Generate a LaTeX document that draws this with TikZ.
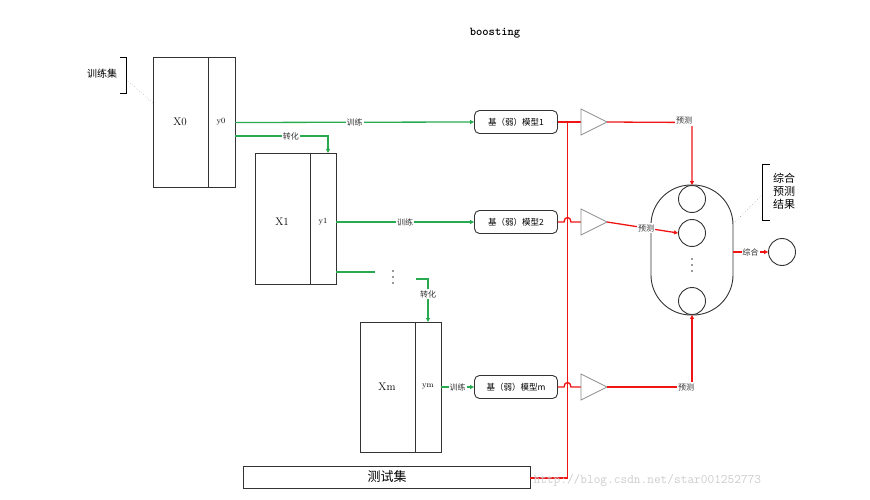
\documentclass[tikz,border=0pt]{standalone}
\usepackage{fontspec}
\newfontfamily\cjk{Noto Sans CJK SC}
\usetikzlibrary{arrows.meta,shapes.geometric}
\definecolor{gline}{RGB}{40,170,80}
\definecolor{rline}{RGB}{240,20,20}
\begin{document}
\begin{tikzpicture}[x=1pt,y=-1pt,
  box/.style={draw=black!80,line width=0.9pt},
  gl/.style={draw=gline,line width=1.3pt},
  rl/.style={draw=rline,line width=1.3pt},
  ga/.style={gl,-{Triangle[length=4pt,width=4pt]}},
  ra/.style={rl,-{Triangle[length=4pt,width=4pt]}},
  lab/.style={font=\cjk\fontsize{8}{8}\selectfont,fill=white,inner sep=1pt,text=black!80},
  model/.style={draw=black!80,line width=0.9pt,rounded corners=5pt,minimum width=83pt,minimum height=23pt,inner sep=1pt,font=\cjk\fontsize{8.5}{9}\selectfont},
  tri/.style={draw=black!45,line width=0.7pt,fill=white},
  circ/.style={draw=black!80,line width=0.9pt,circle,minimum size=27pt,inner sep=0pt},
  dot/.style={circle,fill=black!80,inner sep=0pt,minimum size=1.8pt},
  big/.style={font=\fontsize{11}{11}\selectfont}]
\useasboundingbox (0,0) rectangle (870,500);
\node[font=\ttfamily\bfseries\fontsize{12}{12}\selectfont] (title) at (495,33) {boosting};
% training set label
\node[font=\cjk\fontsize{10}{10}\selectfont] (trs) at (102,74) {训练集};
\draw[line width=0.9pt] (120,57) -- (126,57) -- (126,93) -- (120,93);
\draw[dotted,black!50] (127,80) -- (153,103);
% data boxes
\draw[box] (153,57) rectangle (235,187); \draw[box] (208,57) -- (208,187);
\node[big] (x0) at (180,122) {X0}; \node[font=\fontsize{8}{8}\selectfont] (y0) at (221,122) {y0};
\draw[box] (255,153) rectangle (336,284); \draw[box] (310,153) -- (310,284);
\node[big] (x1) at (282,222) {X1}; \node[font=\fontsize{8}{8}\selectfont] (y1) at (323,222) {y1};
\draw[box] (360,322) rectangle (441,452); \draw[box] (415,322) -- (415,452);
\node[big] (xm) at (387,387) {Xm}; \node[font=\fontsize{8}{8}\selectfont] (ym) at (428,387) {ym};
\draw[box] (243,466) rectangle (530,488);
\node[font=\cjk\fontsize{13}{13}\selectfont] (test) at (387,477) {测试集};
% models
\node[model] (m1) at (516,122) {基（弱）模型1};
\node[model] (m2) at (516,222) {基（弱）模型2};
\node[model] (mm) at (516,387) {基（弱）模型m};
% green
\draw[ga] (235,122.5) -- node[lab] {训练} (m1.west);
\draw[ga] (235,136) -- node[lab,pos=0.6] {转化} (328,136) -- (328,153);
\draw[ga] (336,222) -- node[lab,pos=0.5] {训练} (m2.west);
\draw[gl] (336,272) -- (375,272);
\node[dot] (d1) at (393,271) {}; \node[dot] (d2) at (393,277) {}; \node[dot] (d3) at (393,283) {};
\draw[ga] (416,279) -- (428,279) -- node[lab,pos=0.35] {转化} (428,322);
\draw[ga] (441,387) -- node[lab] {训练} (mm.west);
% red bus
\draw[rl] (530,478) -- (567.5,478) -- (567.5,122);
\draw[rl] (m1.east) -- (590,122);
\draw[rl] (m2.east) -- (564,222) .. controls (564,216) and (571,216) .. (571,222) -- (590,222);
\draw[rl] (mm.east) -- (564,387) .. controls (564,381) and (571,381) .. (571,387) -- (590,387);
% triangles
\foreach \n/\yy in {t1/122,t2/222,tm/387}{
  \draw[tri] (581,\yy-13) -- (607,\yy) -- (581,\yy+13) -- cycle;
  \coordinate (\n) at (607,\yy);}
% capsule
\draw[line width=0.9pt,black!80,rounded corners=40pt] (651,185) rectangle (733,315);
\node[circ] (c1) at (692,199) {};
\node[circ] (c2) at (692,233) {};
\node[dot] (e1) at (692,259) {}; \node[dot] (e2) at (692,265) {}; \node[dot] (e3) at (692,271) {};
\node[circ] (cm) at (692,301) {};
\draw[ra] (t1) -- (692,122.5) -- (c1.north);
\node[lab] (p1) at (684,121) {预测};
\draw[ra] (t2) -- node[lab,pos=0.55] {预测} (c2.west);
\draw[ra] (tm) -- (692,387) -- (cm.south);
\node[lab] (pm) at (686,387) {预测};
% result
\node[circ] (res) at (782,252) {};
\draw[ra] (733,252) -- node[lab] {综合} (res.west);
\node[align=left,font=\cjk\fontsize{11}{13}\selectfont,inner sep=0pt] (rl) at (784,191) {综合\\预测\\结果};
\draw[line width=0.9pt] (770,164) -- (762,164) -- (762,220) -- (770,220);
\draw[dotted,black!50] (761,196) -- (735,222);
% watermark
\node[font=\ttfamily\fontsize{13}{13}\selectfont,text=black!20,anchor=west] (wm) at (530,480) {http://blog.csdn.net/star001252773};
\end{tikzpicture}
\end{document}
